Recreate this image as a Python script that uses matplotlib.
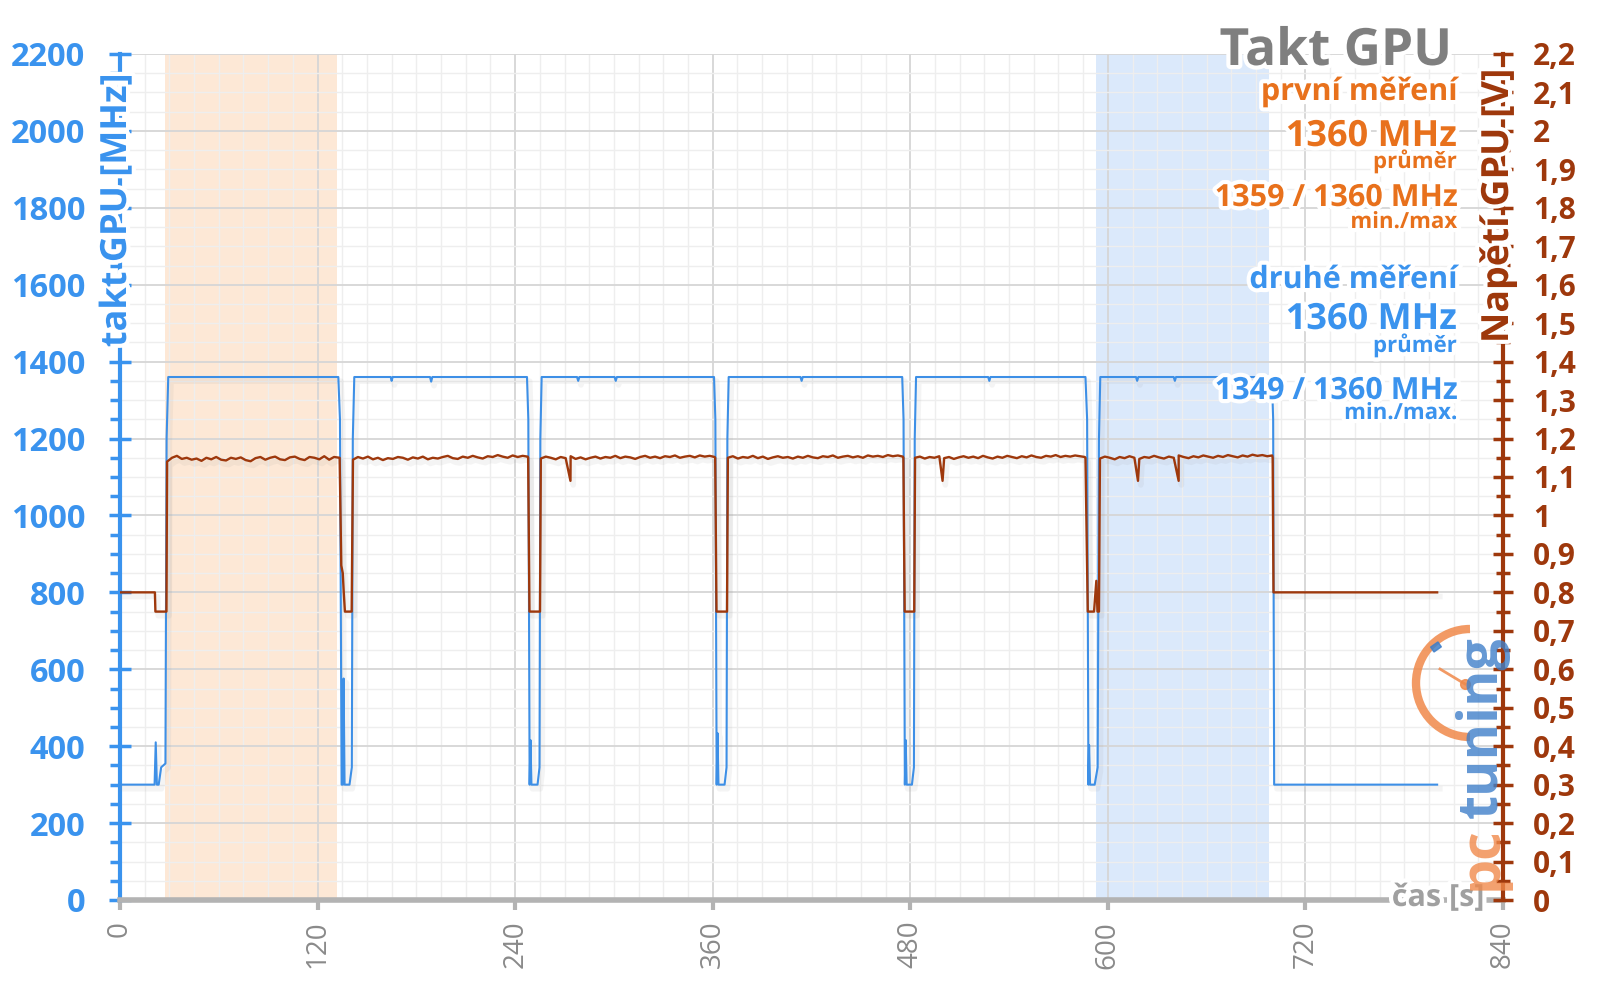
import numpy as np
import matplotlib.pyplot as plt
import matplotlib.patheffects as pe
from matplotlib.patches import Arc, Rectangle
from matplotlib.lines import Line2D
from matplotlib.ticker import MultipleLocator, FuncFormatter

plt.rcParams['font.family'] = ['Open Sans', 'DejaVu Sans']

# --- data: GPU clock [MHz] ---
clk_t = [0, 21.0, 21.7, 22.4, 23.5, 25.0, 27.6, 28.3, 29.3,
         132.6, 133.6, 134.6, 135.4, 135.8, 136.4, 139.4, 140.8, 141.4, 142.3,
         164.4, 165.0, 165.6, 188.3, 189.0, 189.7,
         247.2, 248.0, 248.8, 249.3, 249.9, 253.6, 254.8, 255.3, 256.1,
         277.6, 278.3, 279.0, 300.4, 301.1, 301.8,
         360.8, 361.6, 362.4, 362.9, 363.5, 367.2, 368.4, 368.9, 369.7,
         413.3, 414.0, 414.7,
         475.1, 475.9, 476.7, 477.2, 477.8, 481.0, 482.2, 482.7, 483.5,
         527.3, 528.0, 528.7,
         586.4, 587.4, 588.2, 588.6, 589.2, 592.0, 593.8, 594.6, 595.4,
         617.1, 617.8, 618.5, 640.0, 640.7, 641.4,
         699.6, 700.4, 701.0, 800]
clk_v = [300, 300, 410, 300, 300, 345, 355, 1200, 1360,
         1360, 1250, 300, 300, 576, 300, 300, 345, 1200, 1360,
         1360, 1350, 1360, 1360, 1348, 1360,
         1360, 1250, 300, 416, 300, 300, 345, 1200, 1360,
         1360, 1350, 1360, 1360, 1350, 1360,
         1360, 1250, 300, 434, 300, 300, 345, 1200, 1360,
         1360, 1350, 1360,
         1360, 1250, 300, 416, 300, 300, 345, 1200, 1360,
         1360, 1350, 1360,
         1360, 1250, 300, 403, 300, 300, 345, 1200, 1360,
         1360, 1350, 1360, 1360, 1350, 1360,
         1360, 1250, 300, 300]

# --- data: GPU voltage [V] ---
volt_bp_t = [0, 21.2, 21.5, 28.2,
             133.4, 134.4, 135.3, 135.9, 136.6, 140.7,
             247.9, 248.7, 255.1,
             361.5, 362.3, 368.7,
             475.8, 476.6, 482.4,
             586.4, 587.8, 591.6, 593.0, 593.7, 594.6,
             700.1, 700.6, 800]
volt_bp_v = [0.80, 0.80, 0.75, 0.75,
             1.15, 0.87, 0.85, 0.80, 0.75, 0.75,
             1.15, 0.75, 0.75,
             1.15, 0.75, 0.75,
             1.15, 0.75, 0.75,
             1.15, 0.75, 0.75, 0.83, 0.75, 0.75,
             1.15, 0.80, 0.80]
volt_dip_t = [273.6, 499.6, 618.3, 643.0]
volt_dip_v = [1.09, 1.09, 1.09, 1.09]

plateau_start = [28.6, 141.5, 255.6, 369.2, 482.9, 595.2]
plateau_end = [133.0, 247.6, 361.2, 475.5, 586.0, 699.8]
volt_p1 = [1.140, 1.150, 1.155, 1.147, 1.150, 1.145, 1.148, 1.142, 1.150, 1.146, 1.152, 1.145,
           1.143, 1.150, 1.147, 1.151, 1.144, 1.141, 1.149, 1.152, 1.145, 1.150, 1.153, 1.146,
           1.144, 1.151, 1.153, 1.147, 1.144, 1.152, 1.150, 1.146, 1.154, 1.145, 1.152, 1.150]
volt_p2 = [1.145, 1.152, 1.148, 1.153, 1.146, 1.150, 1.144, 1.149, 1.147, 1.152, 1.150, 1.145,
           1.151, 1.148, 1.153, 1.146, 1.150, 1.148, 1.152, 1.155, 1.149, 1.147, 1.153, 1.150,
           1.155, 1.151, 1.148, 1.154, 1.152, 1.157, 1.153, 1.150, 1.156, 1.152, 1.155, 1.153]
volt_p3 = [1.148, 1.153, 1.150, 1.146, 1.152, 1.149, 1.154, 1.147, 1.151, 1.146, 1.150, 1.153,
           1.148, 1.152, 1.150, 1.155, 1.149, 1.153, 1.151, 1.147, 1.152, 1.155, 1.150, 1.153,
           1.149, 1.154, 1.152, 1.156, 1.150, 1.153, 1.155, 1.151, 1.156, 1.153, 1.155, 1.152]
volt_p4 = [1.150, 1.154, 1.148, 1.152, 1.150, 1.155, 1.149, 1.153, 1.147, 1.151, 1.154, 1.150,
           1.152, 1.148, 1.153, 1.150, 1.155, 1.151, 1.149, 1.154, 1.152, 1.156, 1.150, 1.153,
           1.155, 1.151, 1.154, 1.150, 1.156, 1.153, 1.155, 1.152, 1.157, 1.154, 1.156, 1.153]
volt_p5 = [1.150, 1.153, 1.148, 1.152, 1.150, 1.154, 1.149, 1.152, 1.147, 1.151, 1.154, 1.150,
           1.153, 1.149, 1.155, 1.151, 1.148, 1.153, 1.150, 1.155, 1.152, 1.149, 1.154, 1.151,
           1.156, 1.152, 1.150, 1.155, 1.153, 1.157, 1.152, 1.155, 1.153, 1.156, 1.154, 1.152]
volt_p6 = [1.148, 1.153, 1.150, 1.146, 1.152, 1.149, 1.154, 1.150, 1.147, 1.152, 1.150, 1.155,
           1.151, 1.148, 1.153, 1.150, 1.156, 1.152, 1.149, 1.154, 1.151, 1.156, 1.153, 1.150,
           1.155, 1.152, 1.157, 1.154, 1.151, 1.156, 1.153, 1.158, 1.155, 1.157, 1.154, 1.156]
volt_plateaus = [volt_p1, volt_p2, volt_p3, volt_p4, volt_p5, volt_p6]

# highlighted intervals [s]
span_first = (27.4, 132.0)
span_second = (593.0, 698.0)

x_ticks = [0, 120, 240, 360, 480, 600, 720, 840]

# build the voltage series (sorted by time)
vt = list(volt_bp_t) + list(volt_dip_t)
vv = list(volt_bp_v) + list(volt_dip_v)
for s, e, vals in zip(plateau_start, plateau_end, volt_plateaus):
    vt += list(np.linspace(s, e, len(vals)))
    vv += list(vals)
order = np.argsort(vt)
vt = np.array(vt)[order]
vv = np.array(vv)[order]

BLUE = '#3a93ee'
BLUE_LINE = '#3d8fe6'
BROWN = '#9e380c'
ORANGE = '#e8711c'
GRAY = '#8a8a8a'

W, H = 1600, 999
fig = plt.figure(figsize=(16, 9.99), dpi=100)
ax = fig.add_axes([120 / W, 1 - 900 / H, (1503 - 120) / W, (900 - 54) / H])
ax2 = ax.twinx()

ax.set_xlim(0, 840)
ax.set_ylim(0, 2200)
ax2.set_ylim(0, 2.2)

# shaded intervals
ax.axvspan(*span_first, color='#fde8d6', zorder=0.1, lw=0)
ax.axvspan(*span_second, color='#dbe9fb', zorder=0.1, lw=0)

# grid
ax.set_axisbelow(True)
ax.xaxis.set_major_locator(MultipleLocator(120))
ax.xaxis.set_minor_locator(MultipleLocator(15))
ax.yaxis.set_major_locator(MultipleLocator(200))
ax.yaxis.set_minor_locator(MultipleLocator(50))
ax.grid(which='major', color='#d6d6d6', lw=1.3)
ax.grid(which='minor', color='#eeeeee', lw=1.0)

shadow = [pe.SimpleLineShadow(offset=(2, -3), shadow_color='#909090', alpha=0.09, linewidth=4),
          pe.Normal()]
ax.plot(clk_t, clk_v, color=BLUE_LINE, lw=1.5, zorder=3, path_effects=shadow)
ax2.plot(vt, vv, color=BROWN, lw=1.7, zorder=3, path_effects=shadow)

# spines
for sp in ['top', 'right']:
    ax.spines[sp].set_visible(False)
for sp in ['top', 'left', 'bottom']:
    ax2.spines[sp].set_visible(False)
ax.spines['left'].set_color(BLUE)
ax.spines['left'].set_linewidth(3)
ax.spines['bottom'].set_color('#b3b3b3')
ax.spines['bottom'].set_linewidth(4)
ax2.spines['right'].set_color(BROWN)
ax2.spines['right'].set_linewidth(3)

# ticks
ax.set_xticks(x_ticks)
ax.tick_params(axis='x', which='major', direction='out', length=7, width=3, color='#b3b3b3',
               labelrotation=90, labelsize=20, labelcolor=GRAY, pad=8)
ax.tick_params(axis='x', which='minor', length=0)
ax.tick_params(axis='y', which='major', direction='inout', length=16, width=2.5, color=BLUE,
               labelsize=23.5, labelcolor=BLUE, pad=17)
ax.tick_params(axis='y', which='minor', direction='out', length=7, width=2.5, color=BLUE)
for lb in ax.get_yticklabels():
    lb.set_fontweight('bold')

ax2.yaxis.set_major_locator(MultipleLocator(0.1))
ax2.yaxis.set_minor_locator(MultipleLocator(0.05))
ax2.yaxis.set_major_formatter(FuncFormatter(lambda v, p: f'{round(v, 1):g}'.replace('.', ',')))
ax2.tick_params(axis='y', which='major', direction='inout', length=15, width=2.5, color=BROWN,
                labelsize=21.5, labelcolor=BROWN, pad=14)
ax2.tick_params(axis='y', which='minor', direction='inout', length=10, width=2.5, color=BROWN)
for lb in ax2.get_yticklabels():
    lb.set_fontweight('bold')

glow = [pe.withStroke(linewidth=6, foreground='white')]


def ftext(x, y, s, **kw):
    kw.setdefault('path_effects', glow)
    kw.setdefault('fontweight', 'bold')
    return fig.text(x / W, 1 - y / H, s, **kw)


# axis titles
ftext(117, 210, 'takt GPU [MHz]', rotation=90, ha='center', va='center', color=BLUE, fontsize=26)
ftext(1498, 206, 'Napětí GPU [V]', rotation=90, ha='center', va='center', color=BROWN, fontsize=27)
ftext(1438, 898, 'čas [s]', ha='center', va='center', color='#a0a0a0', fontsize=22)

# annotation block
R = 1457
ftext(1452, 65, 'Takt GPU', ha='right', va='baseline', color='#7f7f7f', fontsize=37)
ftext(R, 100, 'první měření', ha='right', va='baseline', color=ORANGE, fontsize=22)
ftext(R, 146, '1360 MHz', ha='right', va='baseline', color=ORANGE, fontsize=26)
ftext(R, 168, 'průměr', ha='right', va='baseline', color=ORANGE, fontsize=16)
ftext(R, 206, '1359 / 1360 MHz', ha='right', va='baseline', color=ORANGE, fontsize=22)
ftext(R, 228, 'min./max', ha='right', va='baseline', color=ORANGE, fontsize=16)
ftext(R, 288, 'druhé měření', ha='right', va='baseline', color=BLUE, fontsize=22)
ftext(R, 329, '1360 MHz', ha='right', va='baseline', color=BLUE, fontsize=26)
ftext(R, 352, 'průměr', ha='right', va='baseline', color=BLUE, fontsize=16)
ftext(R, 399, '1349 / 1360 MHz', ha='right', va='baseline', color=BLUE, fontsize=22)
ftext(R, 419, 'min./max.', ha='right', va='baseline', color=BLUE, fontsize=16)

# logo watermark
logo_tr = fig.dpi_scale_trans
fig.add_artist(Arc((1470 / 100, (H - 683) / 100), 1.08, 1.08, theta1=90, theta2=270,
                   transform=logo_tr, color='#f0894a', lw=6, alpha=0.85, zorder=5))
fig.add_artist(Line2D([1440 / 100, 1465 / 100], [(H - 669) / 100, (H - 684) / 100],
                      transform=logo_tr, color='#f0894a', lw=2, alpha=0.85, zorder=5))
fig.add_artist(Line2D([1465 / 100], [(H - 684) / 100], transform=logo_tr, marker='o',
                      ms=7, color='#f0894a', alpha=0.85, zorder=5))
fig.add_artist(Rectangle((1434 / 100, (H - 652) / 100), 0.09, 0.06, angle=35,
                         transform=logo_tr, color='#3f7fc9', alpha=0.85, zorder=5))
ftext(1482, 890, 'pc', rotation=90, ha='center', va='bottom', color='#f0894a', fontsize=40,
      alpha=0.8, path_effects=[], zorder=5)
ftext(1482, 818, 'tuning', rotation=90, ha='center', va='bottom', color='#3f7fc9', fontsize=40,
      alpha=0.8, path_effects=[], zorder=5)

fig.savefig('out.png', dpi=100)
